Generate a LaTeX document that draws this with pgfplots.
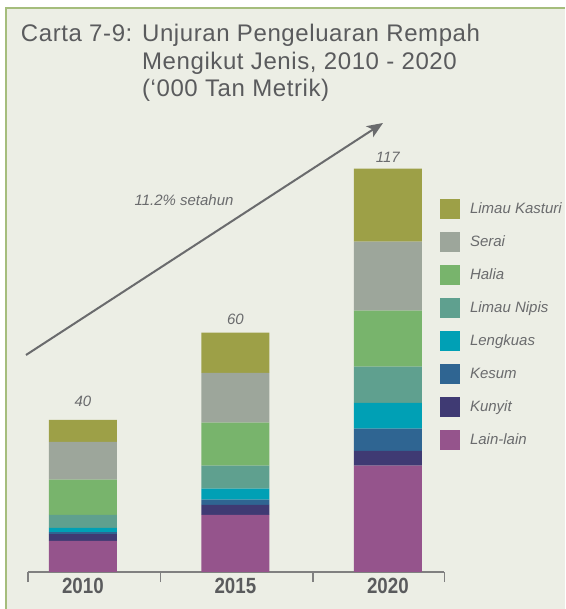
\documentclass[border=0pt]{standalone}
\usepackage{pgfplots}
\pgfplotsset{compat=1.18}
\usepackage{fontspec}
\setmainfont{Liberation Sans}
\newfontfamily\condfont[FakeStretch=0.85]{Liberation Sans}
\newfontfamily\titlefont[LetterSpace=2.5]{Liberation Sans}
\usetikzlibrary{arrows.meta}
\definecolor{bgc}{HTML}{ECEEE5}
\definecolor{bordc}{HTML}{A5BD7C}
\definecolor{titlec}{HTML}{5A5B5D}
\definecolor{txtc}{HTML}{6A6B6D}
\definecolor{axc}{HTML}{808080}
\definecolor{cKasturi}{HTML}{9DA047}
\definecolor{cSerai}{HTML}{9DA69B}
\definecolor{cHalia}{HTML}{78B46C}
\definecolor{cNipis}{HTML}{5FA08F}
\definecolor{cLengkuas}{HTML}{00A0B5}
\definecolor{cKesum}{HTML}{2F6592}
\definecolor{cKunyit}{HTML}{3F3A73}
\definecolor{cLain}{HTML}{95548C}
\begin{document}
\begin{tikzpicture}[x=1pt,y=1pt]
\useasboundingbox (0,0) rectangle (565,609);
\fill[white] (0,0) rectangle (565,609);
\fill[bgc] (5,0) rectangle (565,601);
\draw[bordc, line width=2.5pt] (5.8,0) -- (5.8,601.2) -- (565,601.2);
% title
\node[anchor=base west, inner sep=0pt, text=titlec, font=\titlefont\fontsize{24}{27.5}\selectfont] at (20.7,567.3)
  {\begin{tabular}[t]{@{}l@{ }l@{}}Carta 7-9: & Unjuran Pengeluaran Rempah\\ & Mengikut Jenis, 2010 - 2020\\ & (‘000 Tan Metrik)\end{tabular}};
% growth arrow
\draw[txtc, line width=2pt, -{Stealth[length=16pt,width=13pt,inset=4pt]}] (26,254) -- (383,486);
\node[text=txtc, font=\fontsize{15}{18}\selectfont\itshape] at (184,408.5) {11.2\% setahun};
\begin{axis}[
  at={(28pt,37pt)}, anchor=south west,
  scale only axis, width=416.3pt, height=465pt,
  xmin=-0.36, xmax=2.37, ymin=0, ymax=135,
  enlargelimits=false, clip=false,
  ybar stacked, bar width=68pt,
  hide y axis,
  axis x line*=bottom,
  axis line style={axc, line width=1.6pt},
  xtick={-0.36,0.51,1.51,2.37}, xticklabels={},
  xtick pos=bottom, xtick align=outside,
  major tick length=10pt,
  x tick style={axc, line width=1.6pt},
  extra x ticks={0,1,2},
  extra x tick labels={2010,2015,2020},
  extra x tick style={major tick length=0pt,
     xticklabel style={text=titlec, font=\condfont\bfseries\fontsize{22}{24}\selectfont, inner sep=0pt, yshift=-6pt}},
  legend cell align=left,
  reverse legend,
  legend image code/.code={\fill[#1] (0pt,-10pt) rectangle (20pt,10pt);},
  legend style={at={(axis description cs:0.9897,0.8022)}, anchor=north west,
     draw=none, fill=none, inner sep=0pt, outer sep=0pt,
     row sep=13pt, column sep=10pt,
     font=\fontsize{15}{18}\selectfont\itshape, text=txtc,
     nodes={inner sep=0pt}},
]
\addplot[fill=cLain, draw=none] coordinates {(0,9.0) (1,16.6) (2,30.9)};
\addplot[fill=cKunyit, draw=none] coordinates {(0,2.0) (1,2.9) (2,4.3)};
\addplot[fill=cKesum, draw=none] coordinates {(0,0.6) (1,1.5) (2,6.4)};
\addplot[fill=cLengkuas, draw=none] coordinates {(0,1.2) (1,3.2) (2,7.5)};
\addplot[fill=cNipis, draw=none] coordinates {(0,3.8) (1,6.7) (2,10.5)};
\addplot[fill=cHalia, draw=none] coordinates {(0,10.2) (1,12.5) (2,16.3)};
\addplot[fill=cSerai, draw=none] coordinates {(0,11.0) (1,14.4) (2,20.0)};
\addplot[fill=cKasturi, draw=none] coordinates {(0,6.4) (1,11.7) (2,21.2)};
\legend{Lain-lain,Kunyit,Kesum,Lengkuas,Limau Nipis,Halia,Serai,Limau Kasturi}
\node[text=txtc, font=\fontsize{15}{18}\selectfont\itshape] at (axis cs:0,44.2) [yshift=18pt] {40};
\node[text=txtc, font=\fontsize{15}{18}\selectfont\itshape] at (axis cs:1,69.5) [yshift=13pt] {60};
\node[text=txtc, font=\fontsize{15}{18}\selectfont\itshape] at (axis cs:2,117.1) [yshift=11pt] {117};
\end{axis}
\end{tikzpicture}
\end{document}
